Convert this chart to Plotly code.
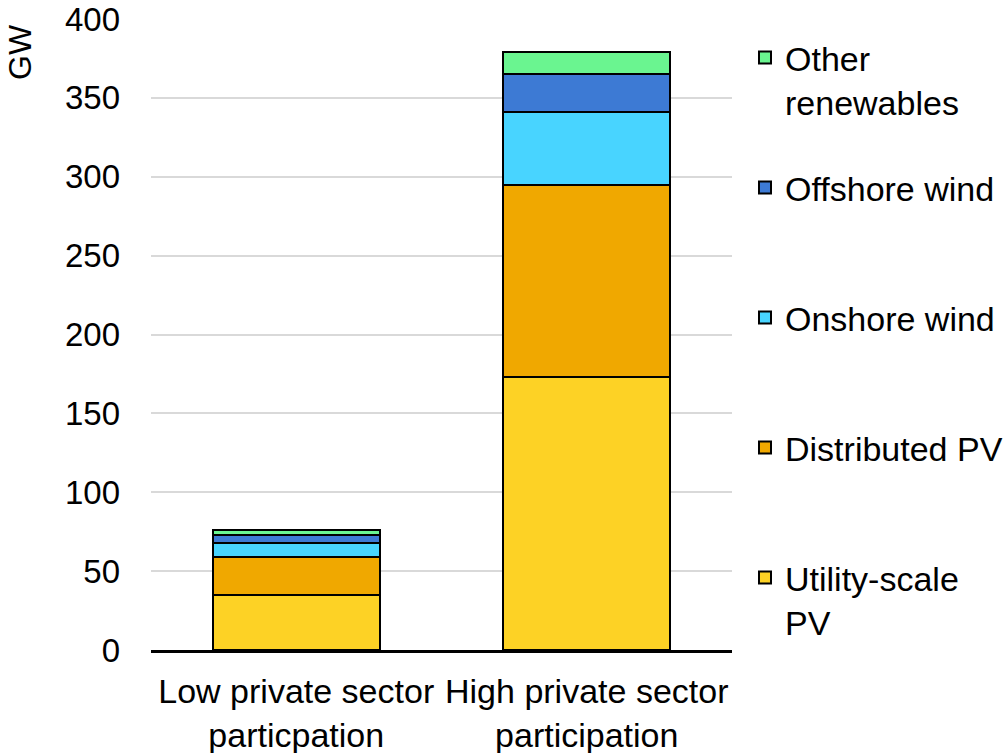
import plotly.graph_objects as go

categories = ["Low private sector<br>particpation", "High private sector<br>participation"]
series_names = ["Utility-scale<br>PV", "Distributed PV", "Onshore wind", "Offshore wind", "Other<br>renewables"]
utility_pv = [35, 173]
distributed_pv = [24, 122]
onshore_wind = [9, 46]
offshore_wind = [5, 24]
other_renewables = [3, 14]
y_ticks = [0, 50, 100, 150, 200, 250, 300, 350, 400]

series_values = [utility_pv, distributed_pv, onshore_wind, offshore_wind, other_renewables]
colors = ["#FDD225", "#F0A800", "#48D4FF", "#3D7AD4", "#6AF590"]
legend_ids = ["legend", "legend2", "legend3", "legend4", "legend5"]
# page-pixel y of legend item middles
legend_py = [600, 448, 318, 188, 80]

FONT = "Liberation Sans, Arial, sans-serif"
FS = 34

W, H = 1004, 753
L, T = 151, 19
R = W - 732
B = H - 650
plot_h = H - T - B
plot_w = W - L - R


def px_to_paper_x(px):
    return (px - L) / plot_w


def px_to_paper_y(py):
    return (H - B - py) / plot_h


fig = go.Figure()
for name, vals, col, lg in zip(series_names, series_values, colors, legend_ids):
    fig.add_trace(go.Bar(
        x=categories, y=vals, name=name,
        marker=dict(color=col, line=dict(color="black", width=2)),
        legend=lg,
    ))

layout_legends = {}
for lg, py in zip(legend_ids, legend_py):
    layout_legends[lg] = dict(
        x=px_to_paper_x(745), xanchor="left",
        y=px_to_paper_y(py), yanchor="middle",
        xref="paper", yref="paper",
        valign="top",
        borderwidth=0,
        bgcolor="rgba(0,0,0,0)",
        font=dict(family=FONT, size=FS, color="black"),
    )

fig.update_layout(
    barmode="stack",
    bargap=0.425,
    width=W, height=H,
    margin=dict(l=L, r=R, t=T, b=B, autoexpand=False),
    paper_bgcolor="white",
    plot_bgcolor="white",
    font=dict(family=FONT, size=FS, color="black"),
    showlegend=True,
    **layout_legends,
)

fig.update_yaxes(
    range=[0, 400],
    tickvals=y_ticks,
    showgrid=True, gridcolor="#D9D9D9", gridwidth=1.5,
    zeroline=False,
    showline=False,
    ticks="",
    ticklabelstandoff=30,
    ticklabeloverflow="allow",
    tickfont=dict(family=FONT, size=33, color="black"),
)
fig.update_xaxes(
    showline=True, linecolor="black", linewidth=3,
    ticks="",
    ticklabelstandoff=9,
    ticklabeloverflow="allow",
    tickfont=dict(family=FONT, size=FS, color="black"),
)

fig.add_annotation(
    text="GW", textangle=-90,
    xref="paper", yref="paper",
    x=px_to_paper_x(20), y=px_to_paper_y(52),
    xanchor="center", yanchor="middle",
    showarrow=False,
    font=dict(family=FONT, size=32, color="black"),
)

fig.write_html(
    "out.html",
    config={"displayModeBar": False},
    post_script="document.body.style.margin='0';",
)
